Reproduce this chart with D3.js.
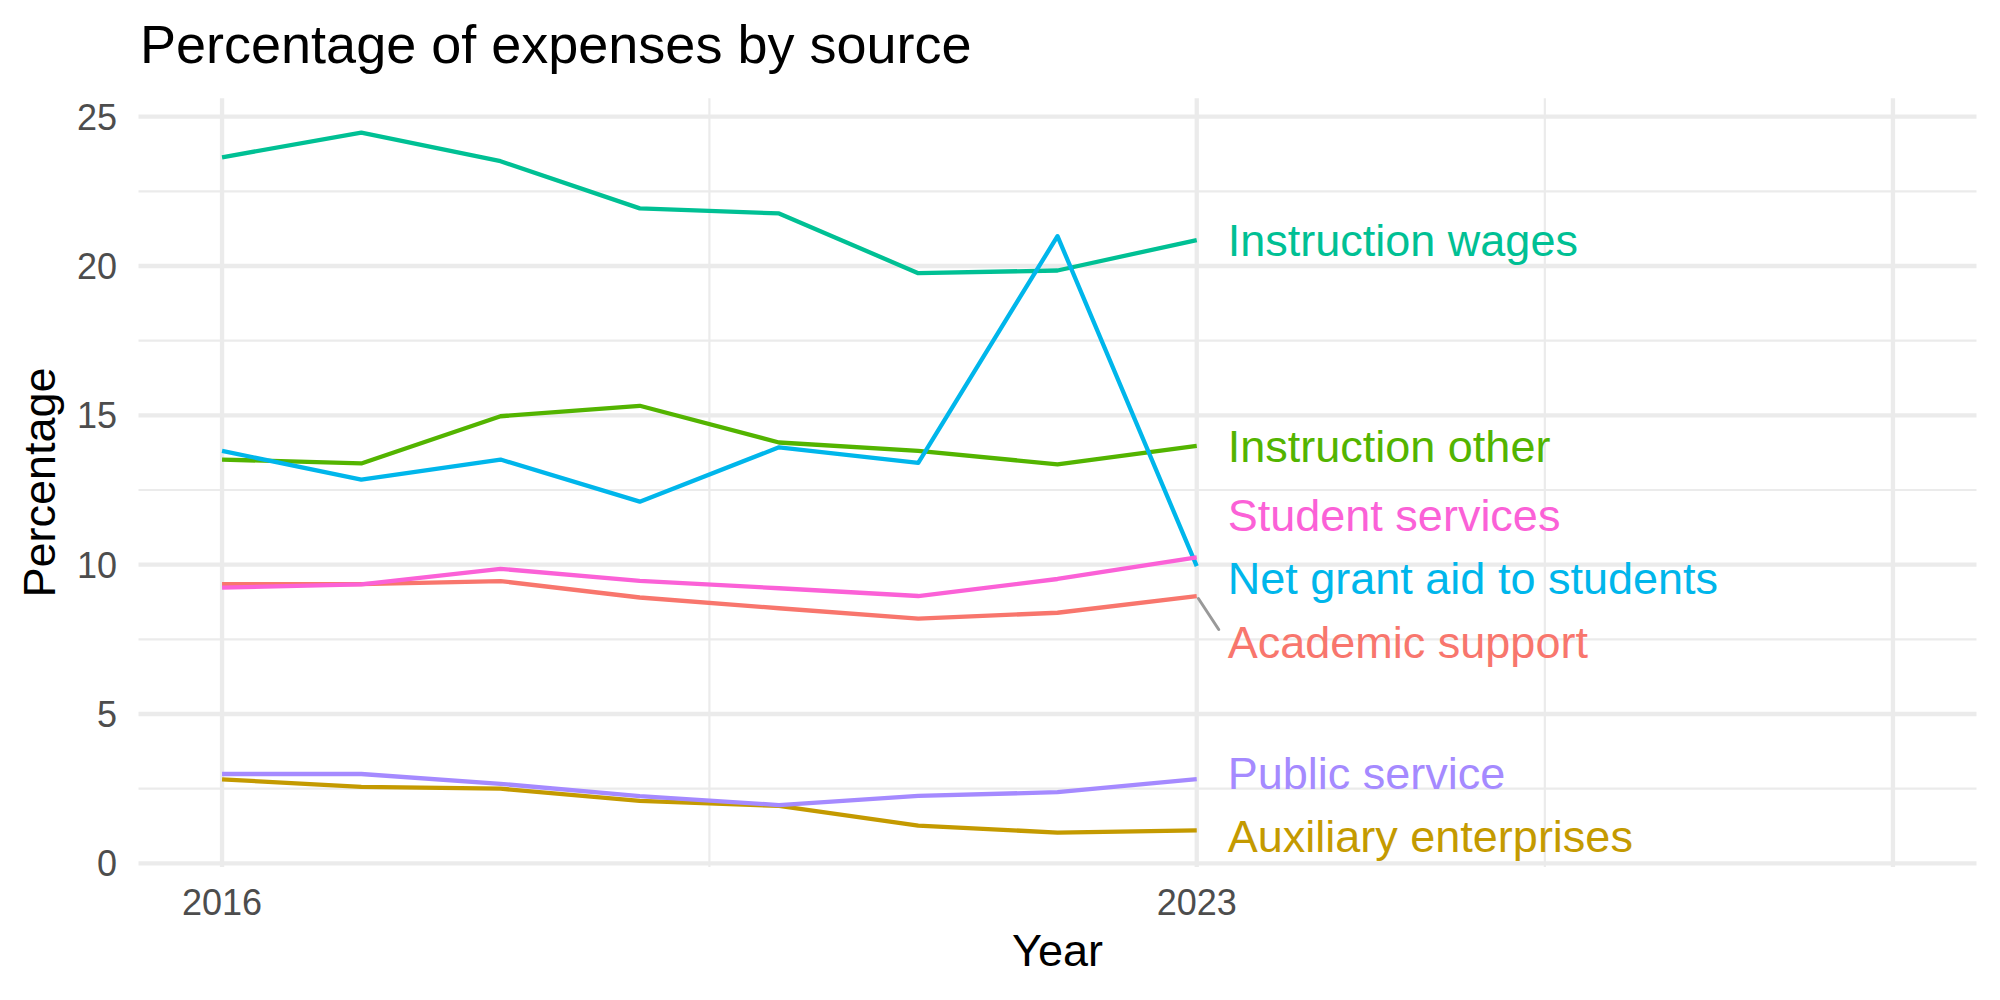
<!DOCTYPE html>
<html>
<head>
<meta charset="utf-8">
<script src="https://cdn.jsdelivr.net/npm/d3@7"></script>
<style>
  html, body { margin: 0; padding: 0; background: #fff; }
  svg { display: block; font-family: "Liberation Sans", Arial, Helvetica, sans-serif; }
</style>
</head>
<body>
<div id="viz"></div>
<script>
const years = [2016, 2017, 2018, 2019, 2020, 2021, 2022, 2023];
const seriesNames = ['Academic support', 'Auxiliary enterprises', 'Instruction other', 'Instruction wages',
  'Net grant aid to students', 'Public service', 'Student services'];
const academicSupport = [9.35, 9.35, 9.45, 8.90, 8.54, 8.19, 8.39, 8.95];
const auxiliaryEnterprises = [2.81, 2.56, 2.50, 2.09, 1.92, 1.26, 1.03, 1.10];
const instructionOther = [13.52, 13.39, 14.97, 15.32, 14.09, 13.81, 13.36, 13.98];
const instructionWages = [23.64, 24.47, 23.51, 21.93, 21.76, 19.76, 19.85, 20.87];
const netGrantAid = [13.81, 12.85, 13.52, 12.11, 13.93, 13.41, 21.0, 9.95];
const publicService = [2.99, 2.99, 2.66, 2.25, 1.95, 2.26, 2.38, 2.82];
const studentServices = [9.23, 9.34, 9.86, 9.46, 9.21, 8.95, 9.52, 10.24];
const seriesValues = [academicSupport, auxiliaryEnterprises, instructionOther, instructionWages,
  netGrantAid, publicService, studentServices];
const seriesColors = ['#F8766D', '#C49A00', '#53B400', '#00C094', '#00B6EB', '#A58AFF', '#FB61D7'];
const yTicks = [0, 5, 10, 15, 20, 25];
const yMinor = [2.5, 7.5, 12.5, 17.5, 22.5];
const xTicks = [2016, 2023, 2028];
const xTickLabels = ['2016', '2023', ''];
const xMinor = [2019.5, 2025.5];

const W = 2000, H = 1000;
const left = 138.5, right = 1976.5;
const x = d3.scaleLinear().domain([2015.4, 2028.6]).range([left, right]);
const y = d3.scaleLinear().domain([0, 25]).range([863.3, 116.7]);
const panelTop = y(25.62), panelBottom = y(-0.12);

const svg = d3.select('#viz').append('svg').attr('width', W).attr('height', H);

// grid
const grid = svg.append('g');
grid.selectAll('.ymin').data(yMinor).join('line')
  .attr('x1', left).attr('x2', right).attr('y1', d => y(d)).attr('y2', d => y(d))
  .attr('stroke', '#EBEBEB').attr('stroke-width', 2.2);
grid.selectAll('.xmin').data(xMinor).join('line')
  .attr('x1', d => x(d)).attr('x2', d => x(d)).attr('y1', panelTop).attr('y2', panelBottom)
  .attr('stroke', '#EBEBEB').attr('stroke-width', 2.2);
grid.selectAll('.ymaj').data(yTicks).join('line')
  .attr('x1', left).attr('x2', right).attr('y1', d => y(d)).attr('y2', d => y(d))
  .attr('stroke', '#EBEBEB').attr('stroke-width', 4.3);
grid.selectAll('.xmaj').data(xTicks).join('line')
  .attr('x1', d => x(d)).attr('x2', d => x(d)).attr('y1', panelTop).attr('y2', panelBottom)
  .attr('stroke', '#EBEBEB').attr('stroke-width', 4.3);

// axes text
svg.append('g').selectAll('text').data(yTicks).join('text')
  .attr('x', 117).attr('y', d => y(d) + 13)
  .attr('text-anchor', 'end').attr('font-size', 36).attr('fill', '#4D4D4D')
  .text(d => d);
svg.append('g').selectAll('text').data(xTicks).join('text')
  .attr('x', d => x(d)).attr('y', 915)
  .attr('text-anchor', 'middle').attr('font-size', 36).attr('fill', '#4D4D4D')
  .text((d, i) => xTickLabels[i]);

svg.append('text').attr('x', (left + right) / 2).attr('y', 966)
  .attr('text-anchor', 'middle').attr('font-size', 45).attr('fill', '#000').text('Year');
svg.append('text').attr('transform', `translate(55,${(panelTop + panelBottom) / 2}) rotate(-90)`)
  .attr('text-anchor', 'middle').attr('font-size', 45).attr('fill', '#000').text('Percentage');
svg.append('text').attr('x', 140).attr('y', 63)
  .attr('font-size', 54).attr('fill', '#000').text('Percentage of expenses by source');

// lines
const line = d3.line().x((d, i) => x(years[i])).y(d => y(d));
svg.append('g').selectAll('path').data(seriesValues).join('path')
  .attr('d', d => line(d))
  .attr('fill', 'none')
  .attr('stroke', (d, i) => seriesColors[i])
  .attr('stroke-width', 4.3)
  .attr('stroke-linejoin', 'round');

// end labels with a simple vertical repel
const lastX = x(years[years.length - 1]);
const lineH = 63.3;
const labels = seriesNames.map((name, i) => {
  const v = seriesValues[i][seriesValues[i].length - 1];
  return { name, color: seriesColors[i], py: y(v), ly: y(v) };
}).sort((a, b) => a.py - b.py);

let groups = labels.map(l => [l]);
let changed = true;
function placeGroup(g) {
  const m = d3.mean(g, l => l.py) + (g.length > 2 ? 5 : 0);
  g.forEach((l, k) => { l.ly = m + (k - (g.length - 1) / 2) * lineH; });
}
groups.forEach(placeGroup);
while (changed) {
  changed = false;
  for (let i = 0; i < groups.length - 1; i++) {
    const a = groups[i], b = groups[i + 1];
    if (b[0].ly - a[a.length - 1].ly < lineH) {
      groups.splice(i, 2, a.concat(b));
      placeGroup(groups[i]);
      changed = true;
      break;
    }
  }
}

const labelX = lastX + 31;
const lg = svg.append('g');
labels.forEach(l => {
  if (l.ly - l.py > lineH / 2) {
    const ex = labelX - 9, ey = l.ly - 12;
    const dx = ex - lastX, dy = ey - l.py, len = Math.hypot(dx, dy);
    lg.append('line')
      .attr('x1', lastX + dx / len * 3).attr('y1', l.py + dy / len * 3)
      .attr('x2', ex).attr('y2', ey)
      .attr('stroke', '#999999').attr('stroke-width', 3)
      .attr('stroke-linecap', 'round');
  }
  lg.append('text')
    .attr('x', labelX).attr('y', l.ly + 16)
    .attr('font-size', 45).attr('fill', l.color)
    .text(l.name);
});
</script>
</body>
</html>
